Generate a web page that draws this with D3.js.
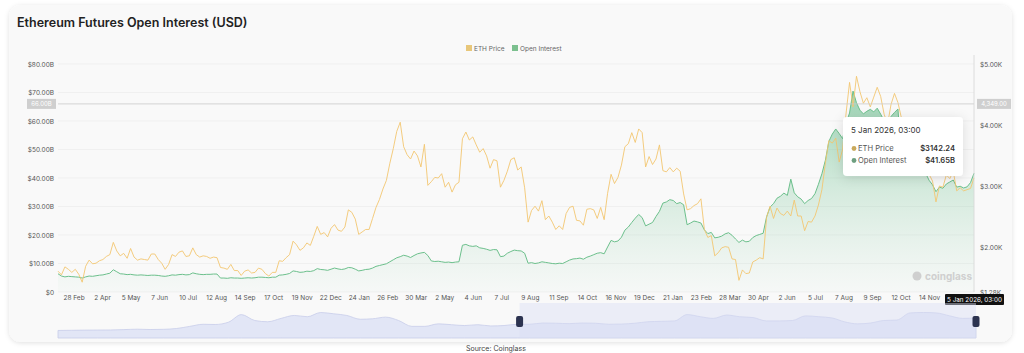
<!DOCTYPE html>
<html>
<head>
<meta charset="utf-8">
<script src="https://cdn.jsdelivr.net/npm/d3@7"></script>
<style>
  body { margin: 0; background: #ffffff; font-family: Inter, "Noto Sans", sans-serif; }
  svg { display: block; }
</style>
</head>
<body>
<svg id="chart" width="1024" height="353"></svg>
<script>
// series start and step (one value every 4 days, 10 Feb 2023 -> 5 Jan 2026)
const startDate = "2023-02-10";
const stepDays = 4;

// ETH price, $K
const ethPrice = [
  1.62,1.56,1.69,1.65,1.60,
  1.65,1.57,1.44,1.70,1.80,1.74,1.75,1.79,
  1.81,1.86,1.89,2.09,1.95,1.87,1.91,
  1.83,1.99,1.85,1.80,1.82,1.81,1.80,1.90,
  1.90,1.81,1.75,1.65,1.73,1.89,1.86,1.93,
  1.95,1.86,1.87,2.00,1.89,1.85,1.87,1.86,
  1.83,1.85,1.84,1.68,1.67,1.65,1.73,
  1.63,1.63,1.55,1.62,1.64,1.59,1.60,1.67,
  1.65,1.58,1.54,1.60,1.60,1.79,1.78,1.84,
  1.89,2.11,2.05,1.96,2.00,2.08,2.04,
  2.19,2.35,2.22,2.25,2.18,2.32,2.38,2.29,
  2.27,2.34,2.62,2.58,2.47,2.22,2.26,2.30,
  2.30,2.48,2.66,2.79,2.96,3.10,3.38,
  3.62,3.90,4.05,3.65,3.52,3.45,3.58,3.50,
  3.32,3.69,3.02,3.08,3.15,3.14,3.21,
  2.99,3.07,2.91,3.03,3.07,3.78,3.89,3.76,
  3.81,3.68,3.56,3.62,3.50,3.30,3.44,
  3.42,2.99,3.10,3.25,3.44,3.47,3.27,3.32,
  2.98,2.42,2.61,2.68,2.60,2.77,2.46,2.52,
  2.42,2.30,2.36,2.30,2.56,2.66,2.68,
  2.45,2.44,2.37,2.63,2.64,2.62,2.48,2.66,
  2.46,2.89,3.20,3.05,3.15,3.35,3.65,
  3.70,3.88,3.72,3.94,3.88,3.32,3.49,3.36,
  3.45,3.68,3.26,3.24,3.31,3.24,3.30,3.25,
  2.88,2.62,2.64,2.69,2.72,2.80,2.30,
  2.17,2.20,1.87,1.92,2.00,2.02,2.01,1.82,
  1.81,1.47,1.64,1.58,1.59,1.77,1.80,
  1.84,1.82,2.50,2.68,2.48,2.65,2.56,2.53,
  2.60,2.52,2.78,2.52,2.52,2.28,2.43,2.42,
  2.52,2.70,2.95,3.38,3.75,3.71,3.79,
  3.40,3.61,4.20,4.70,4.30,4.80,4.55,4.36,
  4.45,4.30,4.46,4.62,4.47,4.18,4.02,4.34,
  4.52,4.37,4.12,3.90,3.86,3.94,3.90,
  3.88,3.31,3.57,3.20,3.09,2.75,3.01,2.99,
  3.19,3.13,3.25,2.93,2.98,2.93,2.95,2.97,3.14224
];

// Open interest, $B
const openInterest = [
  6.4,5.6,5.3,5.5,5.4,
  5.3,5.2,4.9,5.3,5.6,5.5,5.7,5.9,
  6.0,6.3,6.6,7.8,7.1,6.4,6.3,
  6.1,6.2,6.0,5.9,6.0,5.9,5.8,5.9,
  5.9,5.8,5.6,5.5,5.7,6.0,5.9,6.1,
  6.2,6.0,6.1,6.7,6.4,6.2,6.1,6.2,
  6.2,6.3,6.3,4.9,4.9,4.8,5.0,
  4.9,4.9,4.8,4.9,5.0,4.9,5.0,5.2,
  5.2,5.1,5.0,5.2,5.2,5.9,6.0,6.2,
  6.5,7.4,7.2,6.9,7.0,7.3,7.2,
  7.5,8.2,7.9,7.8,7.6,8.0,8.4,8.1,
  7.9,8.1,8.6,8.5,8.0,7.4,7.6,7.9,
  8.0,8.4,9.0,9.3,9.6,9.9,10.6,
  11.3,12.0,12.4,12.9,12.6,12.1,12.8,13.4,
  13.7,13.9,12.8,10.9,10.7,10.8,10.6,
  10.4,10.5,10.3,10.5,10.6,16.4,16.7,16.2,
  16.0,16.2,15.5,15.3,15.0,14.6,14.9,
  14.8,12.4,12.6,13.6,14.2,14.7,14.5,14.4,
  13.6,10.1,10.3,10.0,10.2,10.6,10.4,10.2,
  10.0,9.9,10.1,10.0,10.6,11.2,11.6,
  11.7,11.9,11.5,12.2,12.6,13.1,13.6,13.8,
  13.4,15.8,18.1,17.6,17.9,19.2,21.7,
  22.8,24.4,25.9,27.2,26.1,23.2,23.8,24.4,
  26.5,28.3,31.2,31.6,32.4,32.1,31.0,31.4,
  30.6,23.6,24.2,24.9,24.6,24.2,21.8,
  20.5,20.9,19.0,19.2,19.6,20.4,20.8,19.9,
  18.6,17.4,18.2,17.6,17.8,19.1,19.8,
  20.2,20.6,26.4,29.8,31.0,32.9,33.6,34.7,
  33.9,39.6,34.8,33.4,32.6,31.0,32.1,32.8,
  34.5,37.8,41.5,46.2,52.8,55.4,57.2,
  55.6,53.8,59.4,62.8,70.5,66.4,63.8,62.5,
  63.4,64.1,63.2,64.5,62.4,60.1,59.2,61.6,
  63.0,64.2,47.5,46.8,47.9,46.2,45.4,
  44.6,40.8,41.7,39.2,37.6,35.2,36.8,36.4,
  37.9,38.6,39.3,36.8,37.1,36.5,36.9,38.4,41.65
];

// navigator: monthly ETH price ($K), Mar 2020 -> Jan 2026
const navStart = "2020-03-05";
const navPrice = [
  0.13,0.17,0.21,0.23,0.24,0.33,0.43,0.35,0.40,0.59,
  1.10,1.60,1.55,2.10,3.90,2.50,2.20,3.00,3.70,3.40,4.40,4.10,
  3.70,2.80,2.90,3.30,2.50,1.10,1.10,1.70,1.50,1.30,1.50,1.20,
  1.30,1.60,1.60,1.90,1.85,1.75,1.90,1.85,1.60,1.65,1.85,2.20,
  2.30,2.40,3.90,3.40,3.00,3.80,3.40,3.20,2.40,2.40,2.50,3.60,
  3.40,3.10,2.20,1.70,1.90,2.50,2.60,4.30,4.40,4.30,3.60,3.00,
  3.10
];

const leftTicks = [0, 10, 20, 30, 40, 50, 60, 70, 80];
const rightTicks = [1.28, 2, 3, 4, 5];
const xTickDates = [
  "2023-02-28","2023-04-02","2023-05-05","2023-06-07","2023-07-10","2023-08-12","2023-09-14","2023-10-17","2023-11-19","2023-12-22",
  "2024-01-24","2024-02-26","2024-03-30","2024-05-02","2024-06-04","2024-07-07","2024-08-09","2024-09-11","2024-10-14","2024-11-16","2024-12-19",
  "2025-01-21","2025-02-23","2025-03-28","2025-04-30","2025-06-02","2025-07-05","2025-08-07","2025-09-09","2025-10-12","2025-11-14"
];
const endLabel = "5 Jan 2026, 03:00";
const crossValue = 66.0; // hover line, $B

const parse = d3.timeParse("%Y-%m-%d");
const t0 = parse(startDate);
const tEnd = d3.timeDay.offset(t0, stepDays * (ethPrice.length - 1));
const rows = ethPrice.map((p, i) => ({
  date: d3.timeDay.offset(t0, stepDays * i), price: p, oi: openInterest[i]
}));
const navRows = navPrice.map((p, i) => ({ date: d3.timeMonth.offset(parse(navStart), i), price: p }));

const svg = d3.select("#chart");
const defs = svg.append("defs");

const shadow = defs.append("filter").attr("id", "shadow")
  .attr("x", "-10%").attr("y", "-10%").attr("width", "120%").attr("height", "130%");
shadow.append("feDropShadow").attr("dx", 0).attr("dy", 1).attr("stdDeviation", 2.5)
  .attr("flood-color", "#000").attr("flood-opacity", 0.12);

const tipShadow = defs.append("filter").attr("id", "tipShadow")
  .attr("x", "-30%").attr("y", "-30%").attr("width", "160%").attr("height", "170%");
tipShadow.append("feDropShadow").attr("dx", 0).attr("dy", 2).attr("stdDeviation", 6)
  .attr("flood-color", "#000").attr("flood-opacity", 0.12);

// card
svg.append("rect").attr("x", 9).attr("y", 5).attr("width", 1003).attr("height", 337)
  .attr("rx", 12).attr("fill", "#f9f9f9").attr("filter", "url(#shadow)");

svg.append("text").attr("x", 17).attr("y", 27)
  .attr("font-size", 12.5).attr("font-weight", 600).attr("fill", "#222")
  .text("Ethereum Futures Open Interest (USD)");

// scales
const x = d3.scaleTime().domain([t0, tEnd]).range([58, 974]);
const yL = d3.scaleLinear().domain([0, 80]).range([292, 64]);
const yR = d3.scaleLinear().domain([1.28, 5]).range([292, 64]);

// grid
svg.append("g").selectAll("line").data(leftTicks).join("line")
  .attr("x1", 58).attr("x2", 974)
  .attr("y1", d => yL(d)).attr("y2", d => yL(d))
  .attr("stroke", "#ececec").attr("stroke-width", 0.7);

// left axis
const leftAxis = svg.append("g").attr("transform", "translate(54,0)")
  .call(d3.axisLeft(yL).tickValues(leftTicks).tickSize(0).tickPadding(0)
    .tickFormat(d => d === 0 ? "$0" : "$" + d.toFixed(2) + "B"));
// right axis
const rightAxis = svg.append("g").attr("transform", "translate(980,0)")
  .call(d3.axisRight(yR).tickValues(rightTicks).tickSize(0).tickPadding(0)
    .tickFormat(d => "$" + d.toFixed(2) + "K"));
[leftAxis, rightAxis].forEach(a => {
  a.select(".domain").remove();
  a.selectAll("text").attr("font-size", 6.5).attr("fill", "#555").attr("font-family", "Inter");
});

// x axis
const xAxis = svg.append("g").attr("transform", "translate(0,295)")
  .call(d3.axisBottom(x).tickValues(xTickDates.map(parse)).tickSize(0).tickPadding(0)
    .tickFormat(d3.timeFormat("%-d %b")));
xAxis.select(".domain").remove();
xAxis.selectAll("text").attr("font-size", 6.5).attr("fill", "#555").attr("font-family", "Inter")
  .attr("dy", "0.71em");

// OI area gradient
const grad = defs.append("linearGradient").attr("id", "oiGrad")
  .attr("gradientUnits", "userSpaceOnUse")
  .attr("x1", 0).attr("x2", 0).attr("y1", yL(80)).attr("y2", yL(0));
grad.append("stop").attr("offset", 0).attr("stop-color", "#4fb37a").attr("stop-opacity", 0.66);
grad.append("stop").attr("offset", 0.55).attr("stop-color", "#6cc08e").attr("stop-opacity", 0.26);
grad.append("stop").attr("offset", 1).attr("stop-color", "#8fd0a8").attr("stop-opacity", 0.03);

svg.append("path").datum(rows)
  .attr("d", d3.area().x(d => x(d.date)).y0(yL(0)).y1(d => yL(d.oi)))
  .attr("fill", "url(#oiGrad)");
svg.append("path").datum(rows)
  .attr("d", d3.line().x(d => x(d.date)).y(d => yL(d.oi)))
  .attr("fill", "none").attr("stroke", "#6cc08c").attr("stroke-width", 1);
svg.append("path").datum(rows)
  .attr("d", d3.line().x(d => x(d.date)).y(d => yR(d.price)))
  .attr("fill", "none").attr("stroke", "#f3c771").attr("stroke-width", 1).attr("stroke-opacity", 0.9);

// legend
const legend = svg.append("g").attr("font-size", 6.5).attr("fill", "#666");
[["ETH Price", "#e8c77a", 466], ["Open Interest", "#7cc08f", 512]].forEach(([name, c, lx]) => {
  legend.append("rect").attr("x", lx).attr("y", 45).attr("width", 6).attr("height", 6).attr("fill", c);
  legend.append("text").attr("x", lx + 8).attr("y", 50.5).text(name);
});

// crosshair
svg.append("line").attr("x1", 58).attr("x2", 974).attr("y1", yL(crossValue)).attr("y2", yL(crossValue))
  .attr("stroke", "#c9c9c9").attr("stroke-width", 0.8);
svg.append("line").attr("x1", x(tEnd)).attr("x2", x(tEnd)).attr("y1", 55).attr("y2", 292)
  .attr("stroke", "#d6d6d6").attr("stroke-width", 0.8);
const cy = yL(crossValue);
svg.append("rect").attr("x", 27).attr("y", cy - 5).attr("width", 29).attr("height", 10).attr("fill", "#cfcfcf");
svg.append("text").attr("x", 41.5).attr("y", cy + 2.3).attr("text-anchor", "middle")
  .attr("font-size", 6).attr("fill", "#fff").text(crossValue.toFixed(2) + "B");
svg.append("rect").attr("x", 977).attr("y", cy - 5).attr("width", 34).attr("height", 10).attr("fill", "#cfcfcf");
svg.append("text").attr("x", 994).attr("y", cy + 2.3).attr("text-anchor", "middle")
  .attr("font-size", 6).attr("fill", "#fff").text(d3.format(",.2f")(yR.invert(cy) * 1000));

// watermark
const wm = svg.append("g").attr("fill", "#cfcfcf");
wm.append("circle").attr("cx", 917).attr("cy", 276).attr("r", 4.5);
wm.append("text").attr("x", 925).attr("y", 280).attr("font-size", 10).attr("font-weight", 700).text("coinglass");

// end date badge
svg.append("rect").attr("x", 945).attr("y", 294).attr("width", 59).attr("height", 11).attr("rx", 1).attr("fill", "#111");
svg.append("text").attr("x", 974.5).attr("y", 301.8).attr("text-anchor", "middle")
  .attr("font-size", 6.3).attr("fill", "#fff").text(endLabel);

// tooltip
const last = rows[rows.length - 1];
const tip = svg.append("g").attr("transform", "translate(843,117)");
tip.append("rect").attr("width", 120).attr("height", 59).attr("rx", 4)
  .attr("fill", "#fff").attr("filter", "url(#tipShadow)");
tip.append("text").attr("x", 8).attr("y", 16).attr("font-size", 8).attr("fill", "#333").text(endLabel);
[["ETH Price", "$" + (last.price * 1000).toFixed(2), "#c9a95c", 34],
 ["Open Interest", "$" + last.oi.toFixed(2) + "B", "#6e9f80", 46]].forEach(([name, val, c, ty]) => {
  tip.append("circle").attr("cx", 11).attr("cy", ty - 2.5).attr("r", 2.4).attr("fill", c);
  tip.append("text").attr("x", 15).attr("y", ty).attr("font-size", 7.6).attr("fill", "#555").text(name);
  tip.append("text").attr("x", 112).attr("y", ty).attr("text-anchor", "end").attr("font-size", 7.6)
    .attr("font-weight", 600).attr("fill", "#333").text(val);
});

// navigator
const nx = d3.scaleTime().domain([parse(navStart), tEnd]).range([58, 976]);
const ny = d3.scaleLinear().domain([0, 5]).range([331, 310]);
svg.append("path").datum(navRows)
  .attr("d", d3.area().x(d => nx(d.date)).y0(338).y1(d => ny(d.price)).curve(d3.curveMonotoneX))
  .attr("fill", "#e2e6f6").attr("stroke", "#c8cdea").attr("stroke-width", 0.8);
const selX0 = nx(t0), selX1 = nx(tEnd);
svg.append("rect").attr("x", selX0).attr("y", 303).attr("width", selX1 - selX0).attr("height", 35)
  .attr("fill", "#d9def5").attr("fill-opacity", 0.45);
[selX0, selX1].forEach(hx => {
  svg.append("rect").attr("x", hx - 3.5).attr("y", 316).attr("width", 7).attr("height", 11)
    .attr("rx", 2).attr("fill", "#2c3350");
});

// source line under the card
svg.append("text").attr("x", 466).attr("y", 351).attr("font-size", 7).attr("fill", "#444").text("Source: Coinglass");
</script>
</body>
</html>
